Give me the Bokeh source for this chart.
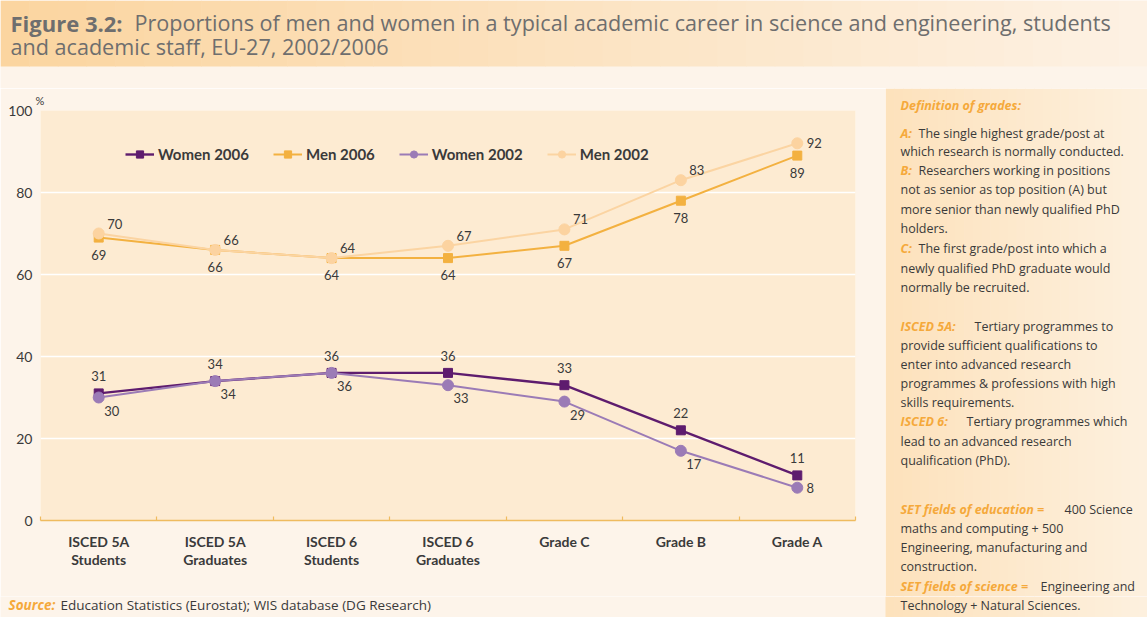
from bokeh.plotting import figure
from bokeh.layouts import column, row
from bokeh.models import (ColumnDataSource, FixedTicker, Legend, LegendItem, Range1d, Title)
from bokeh.embed import file_html
from bokeh.resources import INLINE
from bokeh.core.properties import value

# ---------------- data ----------------
categories = ["ISCED 5A\nStudents", "ISCED 5A\nGraduates", "ISCED 6\nStudents",
              "ISCED 6\nGraduates", "Grade C", "Grade B", "Grade A"]
women_2006 = [31, 34, 36, 36, 33, 22, 11]
men_2006 = [69, 66, 64, 64, 67, 78, 89]
women_2002 = [30, 34, 36, 33, 29, 17, 8]
men_2002 = [70, 66, 64, 67, 71, 83, 92]
y_ticks = [0, 20, 40, 60, 80, 100]

title_bold = "Figure 3.2:"
title_rest = "Proportions of men and women in a typical academic career in science and engineering, students"
title_line2 = "and academic staff, EU-27, 2002/2006"
source_prefix = "Source:"
source_text = "Education Statistics (Eurostat); WIS database (DG Research)"

# ---------------- styles ----------------
FONT = "Lato"
TFONT = "Open Sans"
DARK = "#3a3a3a"
ORANGE = "#f5a93b"
PAGE = "#fdf4ea"
TOTAL_W, TOTAL_H = 1147, 617
TOP_H = 88          # height of title strip
LEFT_W = 885        # width of chart column
BOT_H = 21          # height of bottom strip (source line)
MID_H = TOTAL_H - TOP_H - BOT_H


def blank(width, height, x0, y0):
    """A figure whose frame fills the canvas; coordinates are pixels from the page top-left."""
    f = figure(width=width, height=height, x_range=Range1d(x0, x0 + width),
               y_range=Range1d(y0 + height, y0), output_backend="svg", toolbar_location=None,
               title=None, x_axis_location=None, y_axis_location=None,
               min_border=0, min_border_left=0, min_border_right=0,
               min_border_top=0, min_border_bottom=0)
    f.grid.visible = False
    f.outline_line_color = None
    f.background_fill_color = PAGE
    f.border_fill_color = PAGE
    return f


def gradient(f, left, right, top, bottom, c0, c1, n=40):
    r0, g0, b0 = int(c0[1:3], 16), int(c0[3:5], 16), int(c0[5:7], 16)
    r1, g1, b1 = int(c1[1:3], 16), int(c1[3:5], 16), int(c1[5:7], 16)
    step = (right - left) / n
    L, R, C = [], [], []
    for i in range(n):
        t = i / (n - 1)
        L.append(left + i * step)
        R.append(left + (i + 1) * step + 0.6)
        C.append("#%02x%02x%02x" % (round(r0 + (r1 - r0) * t), round(g0 + (g1 - g0) * t),
                                    round(b0 + (b1 - b0) * t)))
    f.quad(left=L, right=R, top=[top] * n, bottom=[bottom] * n, fill_color=C, line_color=None)


def txt(f, X, Y, text, size="13px", color=DARK, style="normal", align="left", font=TFONT):
    f.text(x=[X], y=[Y], text=[text], text_font=value(font), text_font_size=size,
           text_color=color, text_font_style=style, text_align=align, text_baseline="middle")


# ---------------- title strip ----------------
top = blank(TOTAL_W, TOP_H, 0, 0)
gradient(top, 0, TOTAL_W, 0, 66, "#fbd5a0", "#fdf1e3")
TG = "#6e6e6e"
txt(top, 10, 22, title_bold, size="22px", color=TG, style="bold")
txt(top, 134, 22, title_rest, size="21.6px", color=TG)
txt(top, 10, 46, title_line2, size="21.6px", color=TG)

# ---------------- chart ----------------
xs = [i + 0.5 for i in range(len(categories))]
p = figure(width=LEFT_W, height=MID_H,
           x_range=Range1d(0, len(categories)), y_range=Range1d(0, 100),
           output_backend="svg", toolbar_location=None, title=None,
           min_border_left=40, min_border_right=30, min_border_top=22,
           min_border_bottom=MID_H - 22 - 410)
p.background_fill_color = "#fdebd2"
p.border_fill_color = PAGE
p.outline_line_color = None

p.xgrid.visible = False
p.ygrid.ticker = FixedTicker(ticks=y_ticks)
p.ygrid.grid_line_color = "white"
p.ygrid.grid_line_width = 1.5

p.yaxis.ticker = FixedTicker(ticks=y_ticks)
p.yaxis.axis_line_color = None
p.yaxis.major_tick_line_color = None
p.yaxis.minor_tick_line_color = None
p.yaxis.major_tick_in = 0
p.yaxis.major_tick_out = 0
p.yaxis.minor_tick_in = 0
p.yaxis.minor_tick_out = 0
p.yaxis.major_label_standoff = 8
p.yaxis.major_label_text_font = FONT
p.yaxis.major_label_text_font_size = "14px"
p.yaxis.major_label_text_color = DARK

p.xaxis.ticker = FixedTicker(ticks=xs, minor_ticks=list(range(len(categories) + 1)))
p.xaxis.major_label_overrides = {x: c for x, c in zip(xs, categories)}
p.xaxis.axis_line_color = "#efbb5f"
p.xaxis.axis_line_width = 1.5
p.xaxis.major_tick_line_color = None
p.xaxis.major_tick_in = 0
p.xaxis.major_tick_out = 0
p.xaxis.minor_tick_line_color = "#efbb5f"
p.xaxis.minor_tick_line_width = 1.2
p.xaxis.minor_tick_in = 4
p.xaxis.minor_tick_out = 0
p.xaxis.major_label_standoff = 12
p.xaxis.major_label_text_font = FONT
p.xaxis.major_label_text_font_style = "bold"
p.xaxis.major_label_text_font_size = "14px"
p.xaxis.major_label_text_color = DARK
p.xaxis.major_label_text_line_height = 1.1

# "%" unit mark above the y axis
p.add_layout(Title(text="%", align="left", offset=-5, standoff=7, text_font=FONT,
                   text_font_size="11px", text_color=DARK, text_font_style="normal"), "above")

series = [
    # name, values, line colour, marker colour, marker, size, width, label dx, dy, last dx, last dy
    ("Women 2006", women_2006, "#5e1c6e", "#5e1c6e", "square", 9, 2.4, 0, -17, 0, -17),
    ("Men 2006", men_2006, "#f3b140", "#f3b140", "square", 9, 2, 0, 17, 0, 17),
    ("Women 2002", women_2002, "#9b7bb6", "#9b7bb6", "circle", 11, 2, 13, 13, 13, 0),
    ("Men 2002", men_2002, "#fbd4a2", "#fcd3a0", "circle", 11, 2, 16, -10, 17, 0),
]
items = {}
for name, vals, lc, mc, marker, size, lw, dx, dy, ldx, ldy in series:
    src = ColumnDataSource(dict(
        x=xs, y=vals, t=[str(v) for v in vals],
        dx=[dx] * (len(vals) - 1) + [ldx], dy=[dy] * (len(vals) - 1) + [ldy]))
    r1 = p.line("x", "y", source=src, line_color=lc, line_width=lw)
    r2 = p.scatter("x", "y", source=src, marker=marker, size=size, fill_color=mc, line_color=mc)
    p.text("x", "y", text="t", source=src, x_offset="dx", y_offset="dy",
           text_align="center", text_baseline="middle", text_font=value(FONT),
           text_font_size="13px", text_color=DARK)
    items[name] = LegendItem(label=name, renderers=[r1, r2])

legend = Legend(items=[items[n] for n in ["Women 2006", "Men 2006", "Women 2002", "Men 2002"]],
                orientation="horizontal", location=(85, 357),
                background_fill_alpha=0, border_line_color=None,
                label_text_font=FONT, label_text_font_style="bold", label_text_font_size="15px",
                label_text_color=DARK, glyph_width=29, glyph_height=18, label_height=18,
                label_standoff=4, spacing=24, padding=0, margin=0)
p.add_layout(legend)

# ---------------- side panel (upper part) ----------------
SIDE_C0, SIDE_C1 = "#fde2bc", "#fdf0de"
side = blank(TOTAL_W - LEFT_W, MID_H, LEFT_W, TOP_H)
gradient(side, LEFT_W, TOTAL_W, TOP_H, TOP_H + MID_H, SIDE_C0, SIDE_C1, n=30)
PS = "12.5px"
txt(side, 900, 105, "Definition of grades:", size="12.5px", color=ORANGE, style="bold italic")
panel = [
    ("A:", "The single highest grade/post at", 918, 133),
    (None, "which research is normally conducted.", 900, 151),
    ("B:", "Researchers working in positions", 918, 170),
    (None, "not as senior as top position (A) but", 900, 189),
    (None, "more senior than newly qualified PhD", 900, 209),
    (None, "holders.", 900, 228),
    ("C:", "The first grade/post into which a", 918, 248),
    (None, "newly qualified PhD graduate would", 900, 268),
    (None, "normally be recruited.", 900, 287),
    ("ISCED 5A:", "Tertiary programmes to", 974, 326),
    (None, "provide sufficient qualifications to", 900, 345),
    (None, "enter into advanced research", 900, 364),
    (None, "programmes & professions with high", 900, 383),
    (None, "skills requirements.", 900, 402),
    ("ISCED 6:", "Tertiary programmes which", 966, 421),
    (None, "lead to an advanced research", 900, 441),
    (None, "qualification (PhD).", 900, 460),
    ("SET fields of education =", "400 Science", 1064, 509),
    (None, "maths and computing + 500", 900, 528),
    (None, "Engineering, manufacturing and", 900, 547),
    (None, "construction.", 900, 566),
    ("SET fields of science =", "Engineering and", 1040, 586),
]
for prefix, rest, rx, Y in panel:
    if prefix:
        txt(side, 900, Y, prefix, size=PS, color=ORANGE, style="bold italic")
    txt(side, rx, Y, rest, size=PS)

# ---------------- bottom strip (source + end of side panel) ----------------
bot = blank(TOTAL_W, BOT_H, 0, TOTAL_H - BOT_H)
gradient(bot, LEFT_W, TOTAL_W, TOTAL_H - BOT_H, TOTAL_H, SIDE_C0, SIDE_C1, n=30)
txt(bot, 8, 604, source_prefix, size="13.5px", color=ORANGE, style="bold italic")
txt(bot, 60, 604, source_text, size="13.5px")
txt(bot, 900, 605, "Technology + Natural Sciences.", size=PS)

layout = column(top, row(column(p), side, spacing=0), bot, spacing=0)
open("out.html", "w").write(file_html(layout, INLINE))
